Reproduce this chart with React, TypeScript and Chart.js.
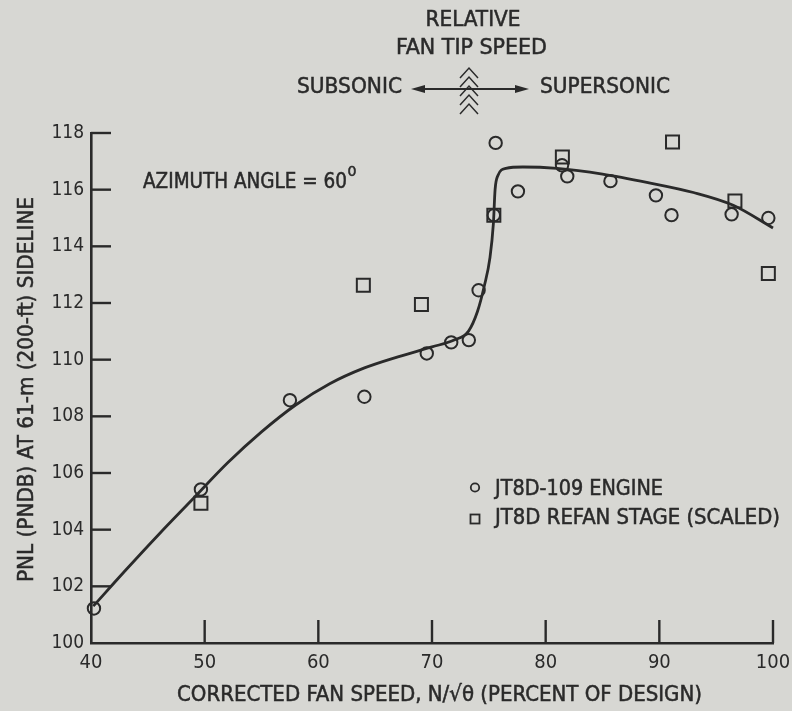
import React, { useEffect, useRef } from "react";
import { Chart, registerables } from "chart.js";
Chart.register(...registerables);

// ---------- data ----------
const engineX = [40.26, 49.67, 57.5, 64.05, 69.54, 71.69, 73.24, 74.1, 75.44, 75.6, 77.56, 81.44, 81.9, 85.7, 89.7, 91.07, 96.36, 99.59];
const engineY = [101.22, 105.42, 108.57, 108.69, 110.22, 110.61, 110.69, 112.45, 115.1, 117.65, 115.94, 116.86, 116.47, 116.3, 115.8, 115.1, 115.13, 115.0];

const refanX = [49.67, 63.96, 69.07, 75.44, 81.47, 91.16, 96.65, 99.59];
const refanY = [104.93, 112.63, 111.95, 115.1, 117.15, 117.68, 115.6, 113.04];

const curveX = [40.2, 43, 46, 49, 52, 55, 58, 61, 64, 67, 70, 72, 73.2, 74.0, 74.6, 75.1, 75.4, 75.55, 75.8, 76.5, 78, 81, 85, 89, 93, 96.5, 100];
const curveY = [101.3, 102.55, 103.85, 105.1, 106.35, 107.45, 108.4, 109.15, 109.7, 110.1, 110.45, 110.7, 111.0, 111.7, 112.6, 113.6, 114.8, 116.0, 116.5, 116.75, 116.8, 116.75, 116.55, 116.25, 115.9, 115.45, 114.65];

const xTicks = [40, 50, 60, 70, 80, 90, 100];
const yTicks = [100, 102, 104, 106, 108, 110, 112, 114, 116, 118];

const seriesNames = ["JT8D-109 ENGINE", "JT8D REFAN STAGE (SCALED)"];
const xTitle = "CORRECTED FAN SPEED, N/\u221A\u03B8 (PERCENT OF DESIGN)";
const yTitle = "PNL (PNDB) AT 61-m (200-ft) SIDELINE";
const headerLines = ["RELATIVE", "FAN TIP SPEED"];
const subLabel = "SUBSONIC";
const superLabel = "SUPERSONIC";
const azimuthLabel = "AZIMUTH ANGLE = 60";
const azimuthSup = "0";

// ---------- style ----------
const FONT = "'Liberation Sans Narrow', 'DejaVu Sans Condensed', 'Arial Narrow', 'Liberation Sans', sans-serif";
const INK = "#2a2a2a";
const BG = "#d7d7d3";

function fitText(ctx: CanvasRenderingContext2D, text: string, x: number, y: number, w: number, size: number, align: "left" | "center" | "right" = "left") {
  ctx.save();
  ctx.font = `${size}px ${FONT}`;
  const m = ctx.measureText(text).width;
  const s = w / m;
  const x0 = align === "left" ? x : align === "center" ? x - w / 2 : x - w;
  ctx.translate(x0, y);
  ctx.scale(s, 1);
  ctx.textAlign = "left";
  ctx.textBaseline = "middle";
  ctx.fillStyle = INK;
  ctx.strokeStyle = INK;
  ctx.lineWidth = 0.5;
  ctx.fillText(text, 0, 0);
  ctx.strokeText(text, 0, 0);
  ctx.restore();
}

const decorPlugin = {
  id: "decor",
  beforeDraw(chart: any) {
    const { ctx, width, height } = chart;
    ctx.save();
    ctx.fillStyle = BG;
    ctx.fillRect(0, 0, width, height);
    ctx.restore();
  },
  afterDraw(chart: any) {
    const { ctx } = chart;
    const xs = chart.scales.x;
    const ys = chart.scales.y;
    ctx.save();
    ctx.strokeStyle = INK;
    ctx.fillStyle = INK;
    ctx.lineCap = "butt";

    // inward tick marks
    ctx.lineWidth = 2.4;
    for (const v of yTicks) {
      if (v === yTicks[0]) continue;
      const py = ys.getPixelForValue(v);
      ctx.beginPath();
      ctx.moveTo(xs.left, py);
      ctx.lineTo(xs.left + 20, py);
      ctx.stroke();
    }
    for (const v of xTicks) {
      if (v === xTicks[0]) continue;
      const px = xs.getPixelForValue(v);
      ctx.beginPath();
      ctx.moveTo(px, ys.bottom);
      ctx.lineTo(px, ys.bottom - 23);
      ctx.stroke();
    }

    // header annotation
    fitText(ctx, headerLines[0], 473, 20, 95, 22, "center");
    fitText(ctx, headerLines[1], 471.5, 48.5, 151, 22, "center");
    fitText(ctx, subLabel, 297, 87, 105, 22, "left");
    fitText(ctx, superLabel, 540, 87, 130, 22, "left");

    // arrows
    const ay = 89;
    ctx.lineWidth = 2;
    ctx.beginPath();
    ctx.moveTo(422, ay);
    ctx.lineTo(518, ay);
    ctx.stroke();
    ctx.beginPath();
    ctx.moveTo(411, ay);
    ctx.lineTo(425, ay - 4);
    ctx.lineTo(425, ay + 4);
    ctx.closePath();
    ctx.fill();
    ctx.beginPath();
    ctx.moveTo(529, ay);
    ctx.lineTo(515, ay - 4);
    ctx.lineTo(515, ay + 4);
    ctx.closePath();
    ctx.fill();

    // chevrons
    ctx.lineWidth = 1.5;
    const cx = 469;
    for (let i = 0; i < 5; i++) {
      const ty = 68 + i * 9;
      ctx.beginPath();
      ctx.moveTo(cx - 9, ty + 10);
      ctx.lineTo(cx, ty);
      ctx.lineTo(cx + 9, ty + 10);
      ctx.stroke();
    }

    // azimuth label
    fitText(ctx, azimuthLabel, 143, 182, 204, 22, "left");
    fitText(ctx, azimuthSup, 347.5, 172, 9, 14, "left");

    // legend
    ctx.lineWidth = 1.8;
    ctx.beginPath();
    ctx.arc(475, 487.5, 4.2, 0, Math.PI * 2);
    ctx.stroke();
    ctx.strokeRect(470.5, 514.5, 9, 9);
    fitText(ctx, seriesNames[0], 495, 489, 168, 22, "left");
    fitText(ctx, seriesNames[1], 495, 518, 285, 22, "left");

    // axis titles
    fitText(ctx, xTitle, 439.5, 695, 525, 22, "center");
    ctx.save();
    ctx.translate(27, 389.5);
    ctx.rotate(-Math.PI / 2);
    fitText(ctx, yTitle, 0, 0, 385, 22, "center");
    ctx.restore();

    ctx.restore();
  },
};

export default function App() {
  const ref = useRef<HTMLCanvasElement | null>(null);
  useEffect(() => {
    if (!ref.current) return;
    const chart = new Chart(ref.current, {
      type: "scatter",
      data: {
        datasets: [
          {
            label: "fit",
            data: curveX.map((x, i) => ({ x, y: curveY[i] })),
            showLine: true,
            borderColor: INK,
            borderWidth: 2.8,
            pointRadius: 0,
            cubicInterpolationMode: "monotone",
            fill: false,
            clip: false,
          } as any,
          {
            label: seriesNames[0],
            data: engineX.map((x, i) => ({ x, y: engineY[i] })),
            pointStyle: "circle",
            pointRadius: 6.2,
            borderWidth: 2,
            borderColor: INK,
            backgroundColor: "rgba(0,0,0,0)",
            clip: false,
          } as any,
          {
            label: seriesNames[1],
            data: refanX.map((x, i) => ({ x, y: refanY[i] })),
            pointStyle: "rect",
            pointRadius: 9.2,
            borderWidth: 2,
            borderColor: INK,
            backgroundColor: "rgba(0,0,0,0)",
            clip: false,
          } as any,
        ],
      },
      options: {
        animation: false,
        responsive: false,
        maintainAspectRatio: false,
        events: [],
        layout: { padding: { left: 0, right: 19, top: 133, bottom: 0 } },
        plugins: { legend: { display: false }, tooltip: { enabled: false } },
        scales: {
          x: {
            type: "linear",
            min: 40,
            max: 100,
            afterFit: (s: any) => { s.height = 68; s.paddingLeft = 0; s.paddingRight = 0; },
            afterBuildTicks: (s: any) => { s.ticks = xTicks.map((v) => ({ value: v })); },
            grid: { display: false, drawTicks: false },
            border: { display: true, color: INK, width: 2.6 },
            ticks: { color: INK, padding: 8, font: { family: FONT, size: 20 }, maxRotation: 0, autoSkip: false },
          },
          y: {
            type: "linear",
            min: 100,
            max: 118,
            afterFit: (s: any) => { s.width = 91; s.paddingTop = 0; s.paddingBottom = 0; },
            afterBuildTicks: (s: any) => { s.ticks = yTicks.map((v) => ({ value: v })); },
            grid: { display: false, drawTicks: false },
            border: { display: true, color: INK, width: 2.6 },
            ticks: { color: INK, padding: 7, font: { family: FONT, size: 19 }, autoSkip: false },
          },
        },
      },
      plugins: [decorPlugin],
    });
    return () => chart.destroy();
  }, []);
  return (
    <div style={{ position: "absolute", left: 0, top: 0, width: 792, height: 711 }}>
      <canvas ref={ref} width={792} height={711} />
    </div>
  );
}
